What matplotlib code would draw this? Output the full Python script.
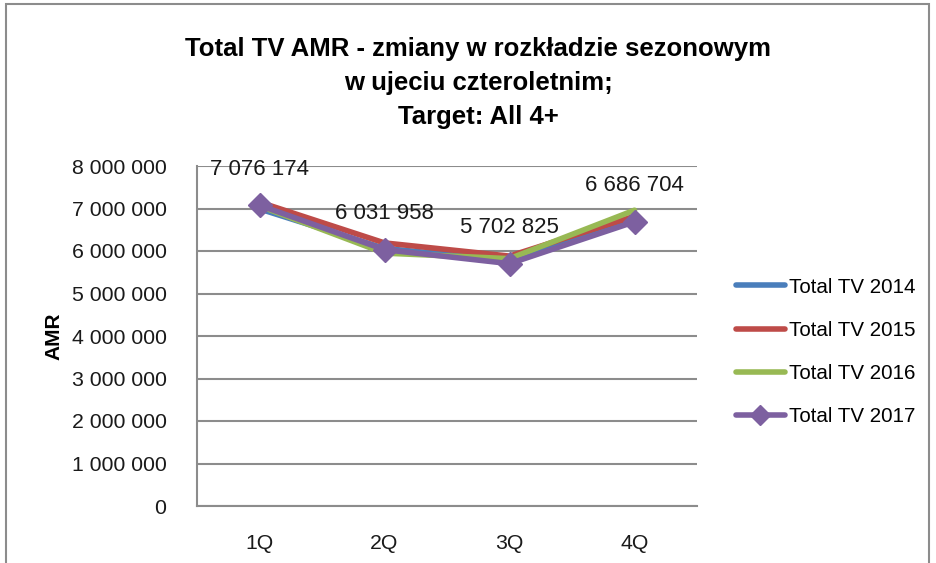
import matplotlib
matplotlib.use("Agg")
import matplotlib.pyplot as plt
from matplotlib.patches import Rectangle
from matplotlib.ticker import FuncFormatter, MultipleLocator

plt.rcParams['font.family'] = ['Liberation Sans', 'DejaVu Sans']

categories = ["1Q", "2Q", "3Q", "4Q"]
series_names = ["Total TV 2014", "Total TV 2015", "Total TV 2016", "Total TV 2017"]
tv2014 = [6990000, 6060000, 5780000, 6760000]
tv2015 = [7150000, 6190000, 5880000, 6820000]
tv2016 = [7060000, 5950000, 5820000, 6960000]
tv2017 = [7076174, 6031958, 5702825, 6686704]
colors = ["#4a7ebb", "#be4b48", "#98b954", "#7d60a0"]

W, H = 936, 563
fig = plt.figure(figsize=(W / 100, H / 100), dpi=100)
fig.patch.set_facecolor("white")

# chart border
fig.add_artist(Rectangle((6 / W, -0.01), (929 - 6) / W, 1 - 4 / H + 0.01,
                         transform=fig.transFigure, fill=False,
                         edgecolor="#8c8c8c", linewidth=1.5))

ax = fig.add_axes([197 / W, (H - 506) / H, (697 - 197) / W, (506 - 166) / H])
x = list(range(len(categories)))
all_series = [tv2014, tv2015, tv2016, tv2017]
for i, (name, vals) in enumerate(zip(series_names, all_series)):
    if i == 3:
        ax.plot(x, vals, color=colors[i], linewidth=4, marker="D", markersize=12,
                label=name, solid_capstyle="round", zorder=5)
    else:
        ax.plot(x, vals, color=colors[i], linewidth=4, label=name,
                solid_capstyle="round", zorder=3 + i * 0.1)

for xi, v in zip(x, tv2017):
    lbl = f"{v:,}".replace(",", " ")
    ax.annotate(lbl, (xi, v), xytext=(0, 26), textcoords="offset points",
                ha="center", va="center", fontsize=16, color="#1a1a1a", zorder=6)

ax.set_xlim(-0.5, 3.5)
ax.set_ylim(0, 8000000)
ax.yaxis.set_major_locator(MultipleLocator(1000000))
ax.yaxis.set_major_formatter(FuncFormatter(lambda v, p: f"{int(v):,}".replace(",", " ")))
ax.set_xticks(x)
ax.set_xticklabels(categories)
ax.tick_params(axis="both", length=0, labelsize=15.3, colors="#1a1a1a")
ax.tick_params(axis="x", pad=20)
ax.tick_params(axis="y", pad=22)
ax.grid(axis="y", color="#8c8c8c", linewidth=1.5)
ax.set_axisbelow(True)
for s in ["top", "right"]:
    ax.spines[s].set_visible(False)
for s in ["left", "bottom"]:
    ax.spines[s].set_color("#8c8c8c")
    ax.spines[s].set_linewidth(1.5)
ax.set_ylabel("AMR", fontsize=15, fontweight="bold", labelpad=6)

fig.text(478 / W, 1 - 83 / H,
         "Total TV AMR - zmiany w rozkładzie sezonowym\nw ujeciu czteroletnim;\nTarget: All 4+",
         ha="center", va="center", fontsize=18.5, fontweight="bold", linespacing=1.55)

handles, labels = ax.get_legend_handles_labels()
fig.legend(handles, labels, loc="center left", bbox_to_anchor=(717 / W, 1 - 352 / H),
           frameon=False, fontsize=14.8, handlelength=2.4, handletextpad=0.2,
           labelspacing=1.18, markerscale=0.85)

fig.savefig("out.png", dpi=100, facecolor="white")
